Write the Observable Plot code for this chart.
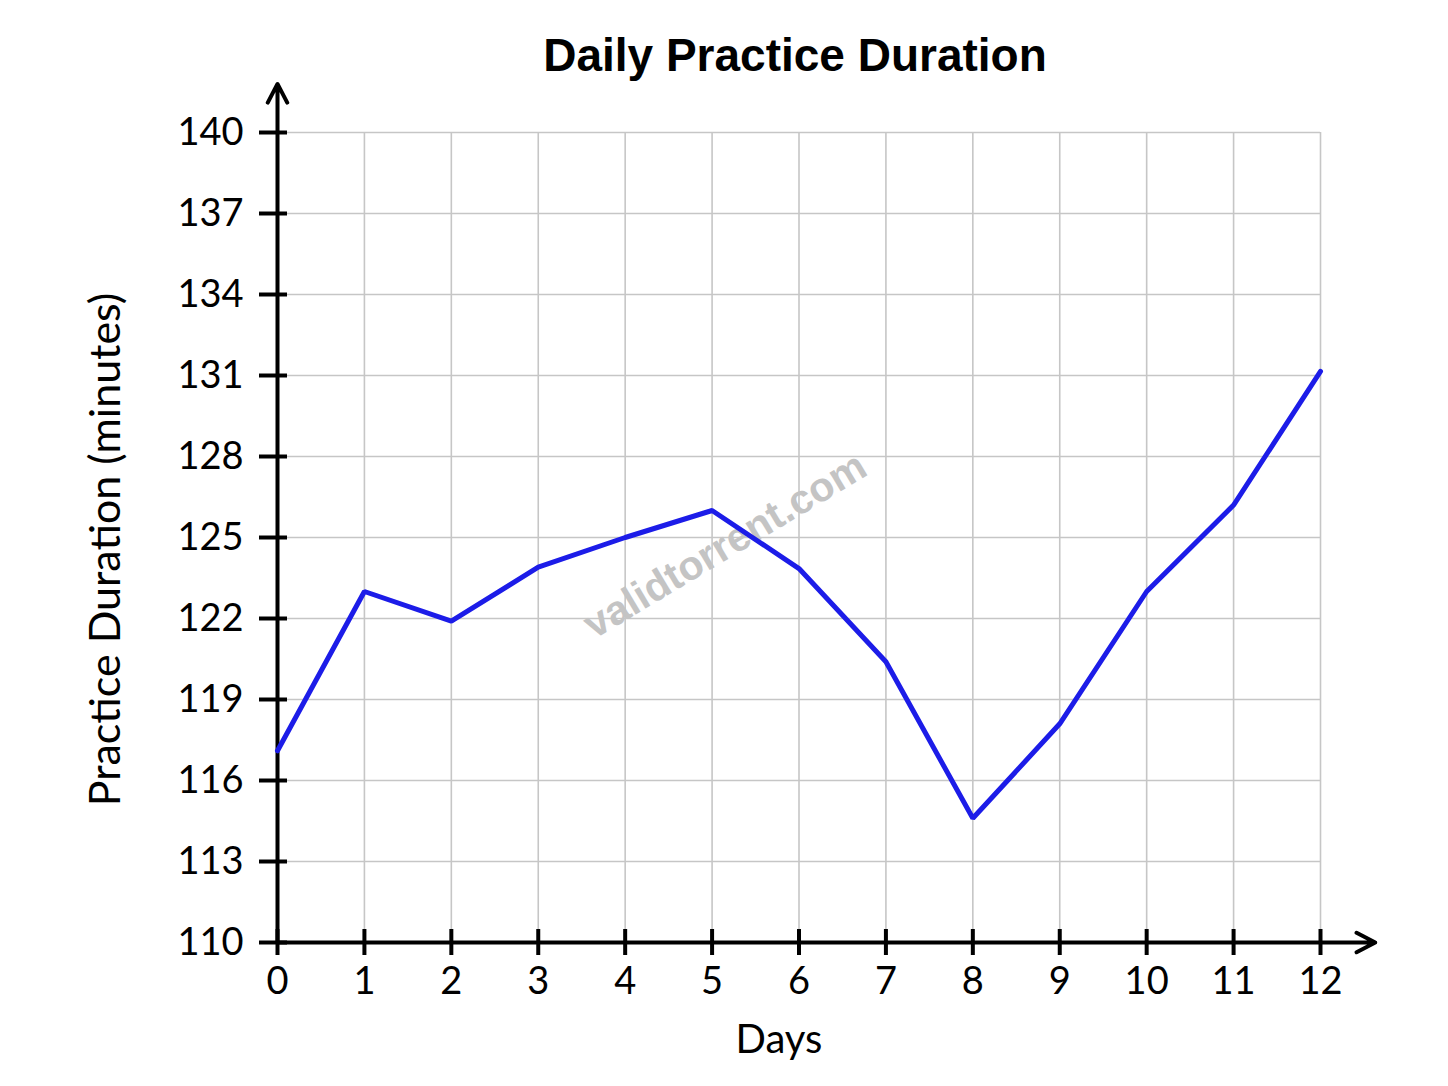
<!DOCTYPE html>
<html>
<head>
<meta charset="utf-8">
<script src="https://cdn.jsdelivr.net/npm/d3@7"></script>
<script src="https://cdn.jsdelivr.net/npm/@observablehq/plot@0.6"></script>
<style>
  body { margin: 0; background: #ffffff; }
  #wrap { position: relative; width: 1448px; height: 1086px; overflow: hidden; }
  #title {
    position: absolute; left: 795px; top: 32px; transform: translateX(-50%);
    font-family: "Liberation Sans", Arial, sans-serif;
    font-weight: bold; font-size: 46px; white-space: nowrap; color: #000;
    line-height: 1;
  }
  #chart { position: absolute; left: 0; top: 0; }
</style>
</head>
<body>
<div id="wrap">
  <div id="chart"></div>
  <div id="title">Daily Practice Duration</div>
</div>
<script>
// Data
const days = [0, 1, 2, 3, 4, 5, 6, 7, 8, 9, 10, 11, 12];
const minutes = [117.1, 123.0, 121.9, 123.9, 125.0, 126.0, 123.85, 120.4, 114.6, 118.1, 123.0, 126.2, 131.15];
const yTicks = [110, 113, 116, 119, 122, 125, 128, 131, 134, 137, 140];
const xLabel = "Days";
const yLabel = "Practice Duration (minutes)";
const watermark = "validtorrent.com";
// axis arrow tips (data units, slightly past the domain)
const xArrowTip = 12.63;
const yArrowTip = 141.8;

const data = days.map((d, i) => ({ day: d, value: minutes[i] }));
const yMin = yTicks[0];
const axisArrows = [
  { x1: 0, y1: yMin, x2: 0, y2: yArrowTip },
  { x1: 0, y1: yMin, x2: xArrowTip, y2: yMin }
];

const plot = Plot.plot({
  width: 1448,
  height: 1086,
  marginLeft: 277,
  marginRight: 128,
  marginTop: 132,
  marginBottom: 144,
  style: { background: "transparent", fontFamily: "Lato, 'Open Sans', sans-serif", color: "#000" },
  x: { domain: [0, 12] },
  y: { domain: [110, 140] },
  marks: [
    Plot.gridX(days.slice(1), { stroke: "#c6c6c6", strokeOpacity: 1, strokeWidth: 1.6 }),
    Plot.gridY(yTicks.slice(1), { stroke: "#c6c6c6", strokeOpacity: 1, strokeWidth: 1.6 }),
    Plot.text([watermark], {
      text: d => d, frameAnchor: "middle", dx: -74, dy: 8, rotate: -31,
      fontSize: 41, fontWeight: "bold", fill: "#c4c4c4", fontFamily: "'Liberation Sans', Arial, sans-serif"
    }),
    Plot.arrow(axisArrows, {
      x1: "x1", y1: "y1", x2: "x2", y2: "y2",
      stroke: "#000", strokeWidth: 4, headLength: 7.9, headAngle: 55, clip: false
    }),
    Plot.ruleX(days, { x: d => d, y1: yMin, y2: yMin, insetTop: -13, insetBottom: -13, stroke: "#000", strokeWidth: 4 }),
    Plot.ruleY(yTicks, { y: d => d, x1: 0, x2: 0, insetLeft: -18, insetRight: -10, stroke: "#000", strokeWidth: 4 }),
    Plot.axisY(yTicks, { tickSize: 0, tickPadding: 34, fontSize: 38, label: null }),
    Plot.axisX(days, { tickSize: 0, tickPadding: 25, fontSize: 38, label: null }),
    Plot.text([yLabel], {
      text: d => d, frameAnchor: "left", textAnchor: "middle", lineAnchor: "middle",
      rotate: -90, dx: -171, dy: 12, fontSize: 43
    }),
    Plot.text([xLabel], {
      text: d => d, frameAnchor: "bottom", textAnchor: "middle", lineAnchor: "middle",
      dx: -20, dy: 98, fontSize: 40
    }),
    Plot.line(data, { x: "day", y: "value", stroke: "#1c1ce8", strokeWidth: 5, strokeLinejoin: "miter" })
  ]
});
document.getElementById("chart").appendChild(plot);
</script>
</body>
</html>
